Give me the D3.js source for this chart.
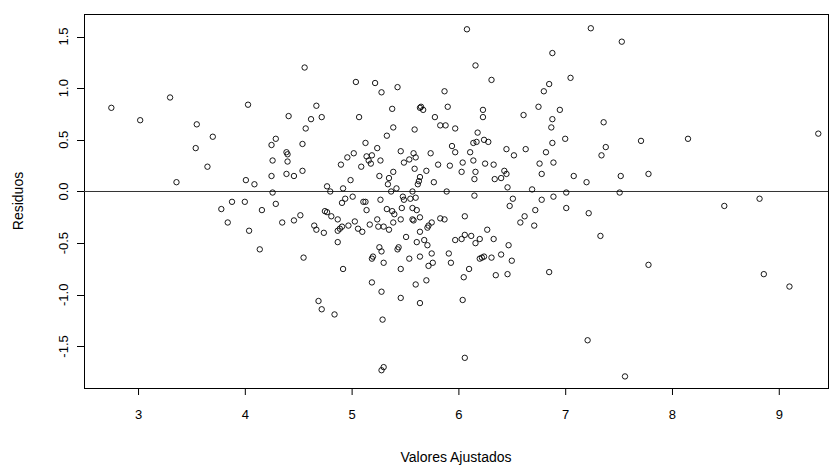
<!DOCTYPE html>
<html>
<head>
<meta charset="utf-8">
<script src="https://cdn.jsdelivr.net/npm/d3@7"></script>
<style>
  html, body { margin: 0; padding: 0; background: #fff; }
  svg { display: block; }
  text { font-family: "Liberation Sans", Arial, sans-serif; fill: #000; }
</style>
</head>
<body>
<svg id="chart" width="838" height="466"></svg>
<script>
// Fitted values (x) and residuals (y)
const fitted = [
2.75,3.02,3.30,3.36,3.55,3.54,3.70,3.65,3.78,3.84,3.88,4.03,4.01,4.09,4.00,4.04,4.14,4.16,
4.56,4.67,4.41,4.62,4.72,4.57,4.29,4.25,4.54,4.26,4.39,4.40,4.40,4.25,4.39,4.46,4.54,4.26,4.29,4.35,4.46,4.52,4.65,4.67,4.74,4.55,
4.69,4.72,4.92,5.19,5.28,5.46,5.60,5.46,5.64,4.84,5.29,5.30,5.28,
5.13,5.24,5.46,5.58,5.02,4.96,5.14,5.19,5.16,5.18,5.27,5.54,5.49,4.90,5.09,5.59,5.39,5.35,5.26,4.99,5.34,5.42,4.77,4.80,4.92,5.37,5.57,
4.94,4.91,5.01,5.11,5.13,5.27,5.48,5.49,5.55,5.60,5.14,4.75,4.77,5.33,5.38,5.40,5.47,5.57,5.61,4.81,4.87,5.03,5.24,5.39,5.46,5.57,5.58,5.64,
5.17,5.25,5.30,5.35,4.97,4.91,4.89,4.87,5.06,5.10,4.87,5.51,5.61,5.26,5.28,5.44,5.43,5.20,5.19,5.30,5.54,5.64,
5.04,5.22,5.28,5.43,5.38,5.64,5.07,5.39,5.33,5.59,
6.08,6.16,6.31,5.87,5.65,5.67,5.90,6.23,6.23,5.78,5.83,5.88,5.97,6.18,6.14,6.17,6.24,6.28,5.94,
5.97,5.74,5.60,6.11,6.45,6.52,6.14,6.04,5.81,5.92,6.25,6.33,5.70,6.03,6.16,6.43,6.45,5.64,5.63,5.62,5.77,6.15,6.34,6.40,5.89,6.15,6.46,6.51,6.48,
5.83,5.87,6.06,5.75,5.72,5.71,5.64,6.27,5.68,5.71,5.97,6.03,6.06,6.12,6.16,6.20,6.33,6.47,5.75,5.91,6.20,6.22,6.24,6.31,6.40,6.50,5.76,5.93,
5.72,5.70,6.10,6.05,6.35,6.46,6.04,6.06,
7.24,6.88,7.05,6.85,6.80,6.75,6.61,6.95,6.88,6.87,7.36,7.00,6.88,6.82,6.63,7.38,7.34,6.76,6.89,6.78,7.08,7.20,6.69,7.01,6.89,6.78,6.72,6.62,6.58,6.71,7.01,7.22,7.33,6.85,7.21,
7.53,7.52,7.51,7.56,7.78,7.78,7.71,8.15,8.49,8.82,8.86,9.10,9.37
];
const residuals = [
0.81,0.69,0.91,0.09,0.65,0.42,0.53,0.24,-0.17,-0.30,-0.10,0.84,0.11,0.07,-0.10,-0.38,-0.56,-0.18,
1.20,0.83,0.73,0.70,0.72,0.61,0.51,0.45,0.46,0.30,0.38,0.36,0.29,0.15,0.17,0.15,0.20,-0.01,-0.12,-0.30,-0.28,-0.23,-0.33,-0.37,-0.40,-0.64,
-1.06,-1.14,-0.75,-0.88,-0.97,-0.75,-0.90,-1.03,-1.08,-1.19,-1.24,-1.70,-1.73,
0.47,0.42,0.39,0.37,0.37,0.33,0.34,0.35,0.30,0.27,0.30,0.31,0.28,0.26,0.24,0.22,0.19,0.13,0.15,0.11,0.07,0.03,0.05,0.00,0.03,0.00,0.00,
-0.07,-0.11,-0.05,-0.10,-0.10,-0.08,-0.05,-0.08,-0.07,-0.06,-0.18,-0.19,-0.20,-0.17,-0.19,-0.22,-0.16,-0.16,-0.18,-0.24,-0.27,-0.29,-0.27,-0.30,-0.27,-0.27,-0.28,-0.25,
-0.32,-0.34,-0.34,-0.37,-0.33,-0.34,-0.36,-0.38,-0.36,-0.39,-0.49,-0.44,-0.49,-0.54,-0.58,-0.54,-0.56,-0.63,-0.65,-0.69,-0.65,-0.63,
1.06,1.05,0.96,1.01,0.80,0.81,0.72,0.62,0.54,0.60,
1.57,1.22,1.08,0.97,0.82,0.79,0.82,0.79,0.72,0.72,0.64,0.64,0.61,0.57,0.47,0.48,0.50,0.48,0.44,
0.38,0.37,0.33,0.38,0.41,0.35,0.30,0.28,0.26,0.25,0.27,0.26,0.20,0.19,0.19,0.20,0.17,0.14,0.10,0.07,0.09,0.12,0.12,0.13,0.00,-0.04,0.04,-0.07,-0.14,
-0.26,-0.27,-0.24,-0.30,-0.33,-0.35,-0.39,-0.37,-0.47,-0.52,-0.47,-0.46,-0.42,-0.43,-0.50,-0.46,-0.46,-0.52,-0.60,-0.60,-0.65,-0.64,-0.63,-0.64,-0.61,-0.67,-0.69,-0.69,
-0.72,-0.86,-0.75,-0.83,-0.81,-0.80,-1.05,-1.61,
1.58,1.34,1.10,1.04,0.97,0.82,0.74,0.79,0.70,0.62,0.67,0.51,0.47,0.38,0.41,0.43,0.35,0.27,0.28,0.17,0.15,0.09,0.02,-0.01,-0.05,-0.08,-0.18,-0.24,-0.30,-0.33,-0.16,-0.21,-0.43,-0.78,-1.44,
1.45,0.15,-0.01,-1.79,-0.71,0.17,0.49,0.51,-0.14,-0.07,-0.80,-0.92,0.56
];
const xTicks = [3, 4, 5, 6, 7, 8, 9];
const xTickLabels = ["3", "4", "5", "6", "7", "8", "9"];
const yTicks = [-1.5, -1.0, -0.5, 0.0, 0.5, 1.0, 1.5];
const yTickLabels = ["-1.5", "-1.0", "-0.5", "0.0", "0.5", "1.0", "1.5"];
const xTitle = "Valores Ajustados";
const yTitle = "Residuos";

const points = fitted.map((f, i) => ({ x: f, y: residuals[i] }));

const svg = d3.select("#chart");
const plot = { left: 84, top: 14, right: 828, bottom: 388 };

const x = d3.scaleLinear().domain([2.494, 9.461]).range([plot.left, plot.right]);
const y = d3.scaleLinear().domain([-1.902, 1.718]).range([plot.bottom, plot.top]);

// x axis
const xAxis = d3.axisBottom(x).tickValues(xTicks)
  .tickFormat((d, i) => xTickLabels[i]).tickSize(7).tickPadding(15);
const gx = svg.append("g").attr("transform", `translate(0,${plot.bottom})`).call(xAxis);
gx.select(".domain").remove();
gx.selectAll("line").attr("stroke", "#000");
gx.selectAll("text").style("font-size", "13px").attr("fill", "#000");

// y axis (rotated labels)
const gy = svg.append("g");
gy.selectAll("line").data(yTicks).join("line")
  .attr("x1", plot.left).attr("x2", plot.left - 7)
  .attr("y1", d => Math.round(y(d)) + 0.5).attr("y2", d => Math.round(y(d)) + 0.5)
  .attr("stroke", "#000");
gy.selectAll("text").data(yTicks).join("text")
  .attr("transform", d => `translate(${plot.left - 16},${y(d)}) rotate(-90)`)
  .attr("text-anchor", "middle")
  .style("font-size", "13px")
  .text((d, i) => yTickLabels[i]);

// box
svg.append("rect")
  .attr("x", plot.left + 0.5).attr("y", plot.top + 0.5)
  .attr("width", plot.right - plot.left).attr("height", plot.bottom - plot.top)
  .attr("fill", "none").attr("stroke", "#000");

// zero line
svg.append("line")
  .attr("x1", plot.left).attr("x2", plot.right)
  .attr("y1", y(0)).attr("y2", y(0))
  .attr("stroke", "#333").attr("stroke-width", 1);

// points
svg.append("g").selectAll("circle").data(points).join("circle")
  .attr("cx", d => x(d.x)).attr("cy", d => y(d.y)).attr("r", 2.7)
  .attr("fill", "none").attr("stroke", "#000").attr("stroke-width", 0.9);

// titles
svg.append("text").attr("x", (plot.left + plot.right) / 2).attr("y", 462)
  .attr("text-anchor", "middle").style("font-size", "14px").text(xTitle);
svg.append("text").attr("transform", `translate(23,${(plot.top + plot.bottom) / 2}) rotate(-90)`)
  .attr("text-anchor", "middle").style("font-size", "14px").text(yTitle);
</script>
</body>
</html>
